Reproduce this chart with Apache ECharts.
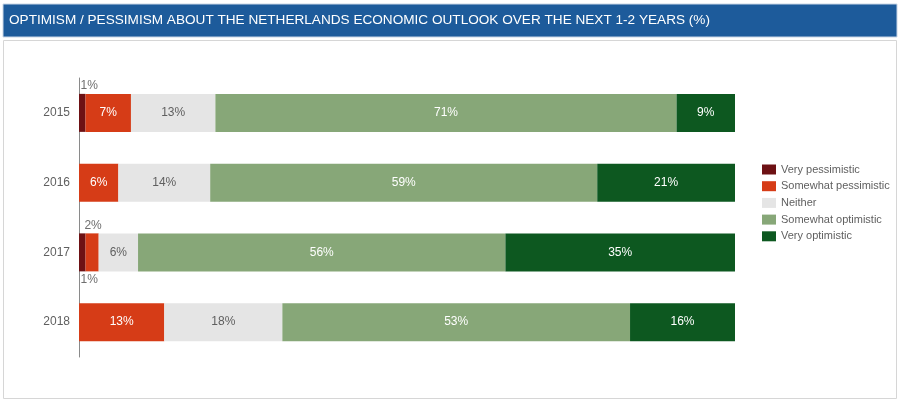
<!DOCTYPE html>
<html>
<head>
<meta charset="utf-8">
<script src="https://cdn.jsdelivr.net/npm/echarts@6/dist/echarts.min.js"></script>
<style>
  html, body { margin: 0; padding: 0; background: #fff; }
  #main { width: 900px; height: 403px; }
</style>
</head>
<body>
<div id="main"></div>
<script>
// years (top to bottom)
var years = ['2015', '2016', '2017', '2018'];
var seriesNames = ['Very pessimistic', 'Somewhat pessimistic', 'Neither', 'Somewhat optimistic', 'Very optimistic'];
// percentages per year, as printed on the bars
var veryPessimistic = [1, 0, 1, 0];
var somewhatPessimistic = [7, 6, 2, 13];
var neither = [13, 14, 6, 18];
var somewhatOptimistic = [71, 59, 56, 53];
var veryOptimistic = [9, 21, 35, 16];
var colors = ['#6d1114', '#d63c17', '#e5e5e5', '#87a778', '#0d5820'];

var allValues = [veryPessimistic, somewhatPessimistic, neither, somewhatOptimistic, veryOptimistic];
// each row fills the full bar (values are rounded, so 2015 adds to 101)
var rowSums = years.map(function (y, i) {
    var s = 0;
    allValues.forEach(function (arr) { s += arr[i]; });
    return s;
});

// small segments have their label outside the bar: [position, x offset]
var outsideLabels = {
    '0-0': ['top', 7],
    '0-2': ['bottom', 7],
    '1-2': ['top', 1]
};

var series = seriesNames.map(function (name, si) {
    return {
        name: name,
        type: 'bar',
        stack: 'total',
        barWidth: 38,
        itemStyle: { color: colors[si] },
        emphasis: { disabled: true },
        data: allValues[si].map(function (v, i) {
            var item = { value: v / rowSums[i] * 100, raw: v };
            var pos = outsideLabels[si + '-' + i];
            if (v === 0) {
                item.label = { show: false };
            } else if (pos) {
                item.label = {
                    show: true,
                    position: pos[0],
                    distance: 2,
                    offset: [pos[1], 0],
                    color: '#6f6f6f'
                };
            }
            return item;
        }),
        label: {
            show: true,
            position: 'inside',
            fontFamily: 'Liberation Sans, Arial, sans-serif',
            fontSize: 12,
            color: si === 2 ? '#5f5f5f' : '#ffffff',
            formatter: function (p) { return p.data.raw + '%'; }
        }
    };
});

var myChart = echarts.init(document.getElementById('main'));
var option = {
    animation: false,
    backgroundColor: '#ffffff',
    graphic: [
        {
            type: 'rect',
            shape: { x: 3.5, y: 40.5, width: 893, height: 358 },
            style: { fill: '#ffffff', stroke: '#d6d6d6', lineWidth: 1 },
            z: -10
        },
        {
            type: 'rect',
            shape: { x: 3, y: 4, width: 894, height: 33 },
            style: { fill: '#1d5b9b', stroke: '#c9d6e6', lineWidth: 1 },
            z: -10
        },
        {
            type: 'text',
            left: 9,
            top: 13,
            style: {
                text: 'OPTIMISM / PESSIMISM ABOUT THE NETHERLANDS ECONOMIC OUTLOOK OVER THE NEXT 1-2 YEARS (%)',
                fill: '#ffffff',
                fontFamily: 'Liberation Sans, Arial, sans-serif',
                fontSize: 13.6
            }
        }
    ],
    legend: {
        data: seriesNames,
        orient: 'vertical',
        left: 757,
        top: 159,
        itemWidth: 14,
        itemHeight: 10,
        itemGap: 5.7,
        icon: 'rect',
        selectedMode: false,
        textStyle: {
            fontFamily: 'Liberation Sans, Arial, sans-serif',
            fontSize: 11,
            color: '#5f5f5f'
        }
    },
    grid: {
        left: 79,
        top: 78,
        width: 656,
        height: 279
    },
    xAxis: {
        type: 'value',
        min: 0,
        max: 100,
        show: false
    },
    yAxis: {
        type: 'category',
        data: years,
        inverse: true,
        axisLine: { lineStyle: { color: '#8a8a8a' } },
        axisTick: { show: false },
        axisLabel: {
            fontFamily: 'Liberation Sans, Arial, sans-serif',
            fontSize: 12,
            color: '#5f5f5f',
            margin: 9
        }
    },
    series: series
};
myChart.setOption(option);
</script>
</body>
</html>
